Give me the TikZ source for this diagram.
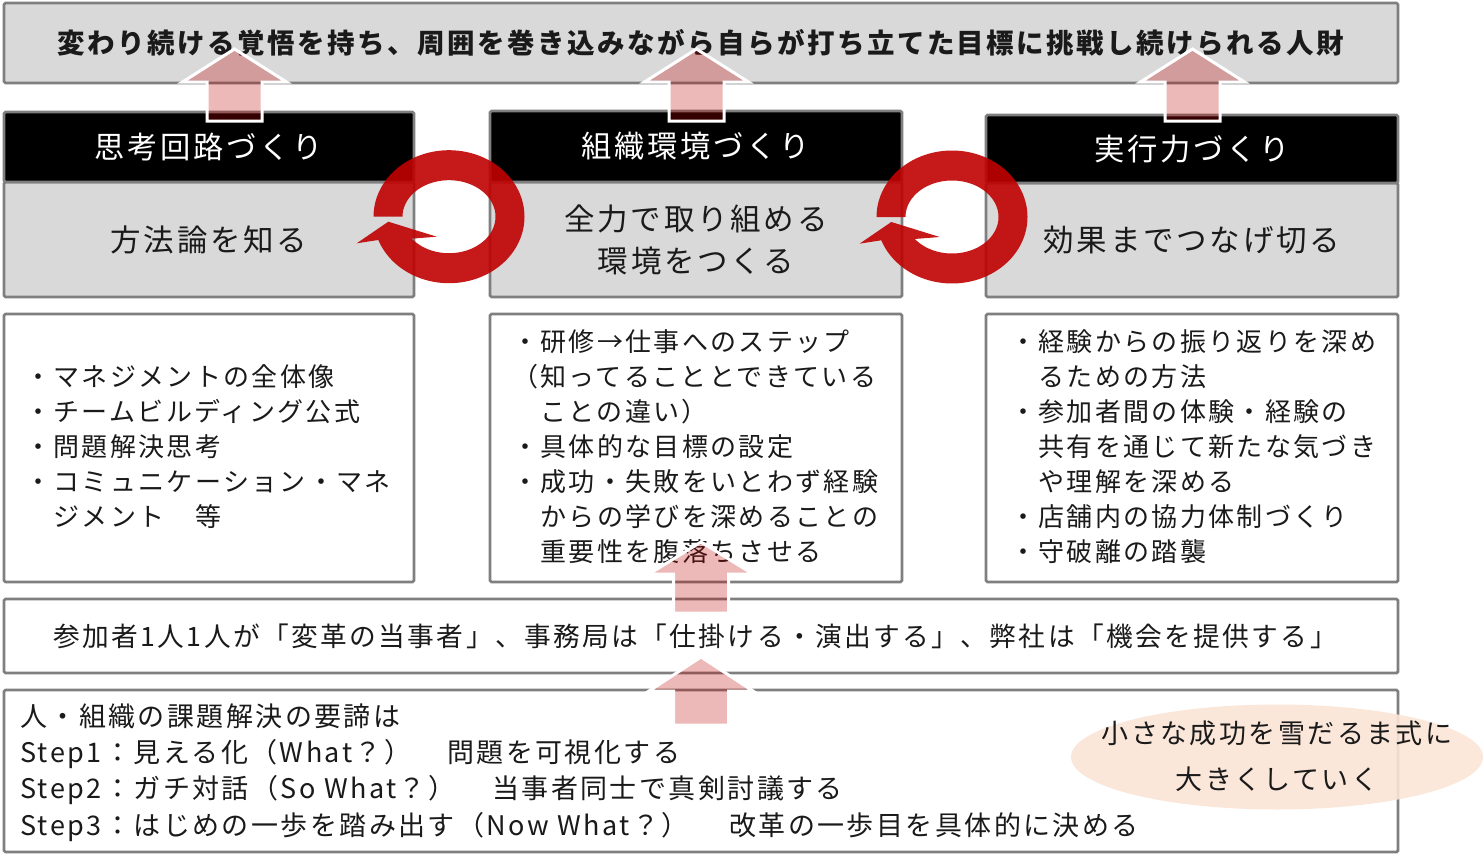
\documentclass[tikz,border=0pt]{standalone}
\usepackage{fontspec}
\setmainfont{Noto Sans CJK JP}[LetterSpace=9]
\usetikzlibrary{shapes.geometric}
\definecolor{bordergray}{HTML}{7F7F7F}
\definecolor{boxgray}{HTML}{D9D9D9}
\definecolor{ringred}{HTML}{C00000}
\definecolor{arrowred}{HTML}{C00000}
\definecolor{peach}{HTML}{FBE5D6}
\definecolor{txt}{HTML}{1A1A1A}
\tikzset{
  box/.style={rectangle, draw=bordergray, line width=2.8pt, rounded corners=1.5pt, inner sep=0pt, text=txt},
  graybox/.style={box, fill=boxgray},
  headbox/.style={box, fill=black, text=white},
  whitebox/.style={box, fill=white},
  listtext/.style={anchor=west, inner sep=0pt, align=left, text=txt, font=\fontsize{26}{35}\selectfont},
  bline/.style={anchor=west, inner sep=0pt, text=txt, text height=23.5pt, text depth=3.2pt, font=\fontsize{27}{36}\selectfont},
  uparr/.style={draw=white, line width=3pt, line join=miter, fill=arrowred, fill opacity=0.28, draw opacity=1},
  ring/.style={fill=ringred, fill opacity=0.9},
  ell/.style={ellipse, fill=peach, fill opacity=0.9, inner sep=0pt},
  elltext/.style={inner sep=0pt, text=txt, align=center, font=\fontsize{27}{46}\selectfont}
}
\newcommand\blkarrow[4]{%
  \filldraw[uparr] (#1,#2) -- ({#1+52},#3) -- ({#1+27.5},#3) -- ({#1+27.5},#4) -- ({#1-27.5},#4) -- ({#1-27.5},#3) -- ({#1-52},#3) -- cycle;}
\newcommand\ringarrow[2]{%
  \fill[ring] plot[domain=180:519.5,samples=120] ({#1+75.5*cos(\x)},{#2+66.5*sin(\x)})
    -- ({#1-92.3},{#2+26.6}) -- ({#1-60.7},{#2+5}) -- ({#1-12.3},{#2+20})
    -- plot[domain=503:180,samples=120] ({#1+46.5*cos(\x)},{#2+36.5*sin(\x)}) -- cycle;}
\begin{document}
\begin{tikzpicture}[x=1pt,y=-1pt]
\useasboundingbox (0,0) rectangle (1483,862);
% goal
\node[graybox, minimum width=1394pt, minimum height=80pt, font=\bfseries\fontsize{27.5}{33}\selectfont] (goal) at (701,43) {変わり続ける覚悟を持ち、周囲を巻き込みながら自らが打ち立てた目標に挑戦し続けられる人財};
% bodies
\node[graybox, minimum width=410pt, minimum height=115pt, font=\fontsize{30.5}{42}\selectfont] (b1) at (209,239.5) {方法論を知る};
\node[graybox, minimum width=412pt, minimum height=115pt, align=center, font=\fontsize{30.5}{42}\selectfont] (b2) at (696,239.5) {全力で取り組める\\環境をつくる};
\node[graybox, minimum width=412pt, minimum height=114pt, font=\fontsize{30.5}{42}\selectfont] (b3) at (1192,240) {効果までつなげ切る};
% headers
\node[headbox, minimum width=410pt, minimum height=70pt, font=\fontsize{30.3}{36}\selectfont] (h1) at (209,147) {思考回路づくり};
\node[headbox, minimum width=412pt, minimum height=71pt, font=\fontsize{30.3}{36}\selectfont] (h2) at (696,146.5) {組織環境づくり};
\node[headbox, minimum width=412pt, minimum height=68pt, font=\fontsize{30.3}{36}\selectfont] (h3) at (1192,149) {実行力づくり};
% detail boxes
\node[whitebox, minimum width=410pt, minimum height=268pt] (t1) at (209,448) {};
\node[whitebox, minimum width=412pt, minimum height=268pt] (t2) at (696,448) {};
\node[whitebox, minimum width=412pt, minimum height=268pt] (t3) at (1192,448) {};
\node[listtext] (l1) at (25,447) {・マネジメントの全体像\\・チームビルディング公式\\・問題解決思考\\・コミュニケーション・マネ\\　ジメント　等};
\node[listtext] (l2) at (512,447) {・研修→仕事へのステップ\\（知ってることとできている\\　ことの違い）\\・具体的な目標の設定\\・成功・失敗をいとわず経験\\　からの学びを深めることの\\　重要性を腹落ちさせる};
\node[listtext] (l3) at (1010,447) {・経験からの振り返りを深め\\　るための方法\\・参加者間の体験・経験の\\　共有を通じて新たな気づき\\　や理解を深める\\・店舗内の協力体制づくり\\・守破離の踏襲};
% roles bar
\node[whitebox, minimum width=1394pt, minimum height=74pt] (roles) at (701,636) {};
\node[inner sep=0pt, text=txt, font=\fontsize{26.7}{32}\selectfont] (rolestext) at (695,636) {参加者1人1人が「変革の当事者」、事務局は「仕掛ける・演出する」、弊社は「機会を提供する」};
% steps box
\node[whitebox, minimum width=1394pt, minimum height=162pt] (steps) at (701,771) {};
\node[bline] (s0) at (20,716) {人・組織の課題解決の要諦は};
\node[bline] (s1) at (20,752) {Step1：見える化（What？）};
\node[bline] (s1b) at (447,752) {問題を可視化する};
\node[bline] (s2) at (20,788) {Step2：ガチ対話（So What？）};
\node[bline] (s2b) at (492,788) {当事者同士で真剣討議する};
\node[bline] (s3) at (20,825) {Step3：はじめの一歩を踏み出す（Now What？）};
\node[bline] (s3b) at (729,825) {改革の一歩目を具体的に決める};
% snowball ellipse
\node[ell, minimum width=412pt, minimum height=105pt] (snow) at (1277,757) {};
\node[elltext] (snowtext) at (1277,756) {小さな成功を雪だるま式に\\大きくしていく};
% circular arrows
\ringarrow{449}{216.7}
\ringarrow{952}{217}
% up arrows
\blkarrow{234.5}{49}{82}{121}
\blkarrow{696.5}{49}{82}{121}
\blkarrow{1192.5}{49}{82}{121}
\blkarrow{701}{542}{574}{613}
\blkarrow{701}{657}{691}{725}
\end{tikzpicture}
\end{document}
